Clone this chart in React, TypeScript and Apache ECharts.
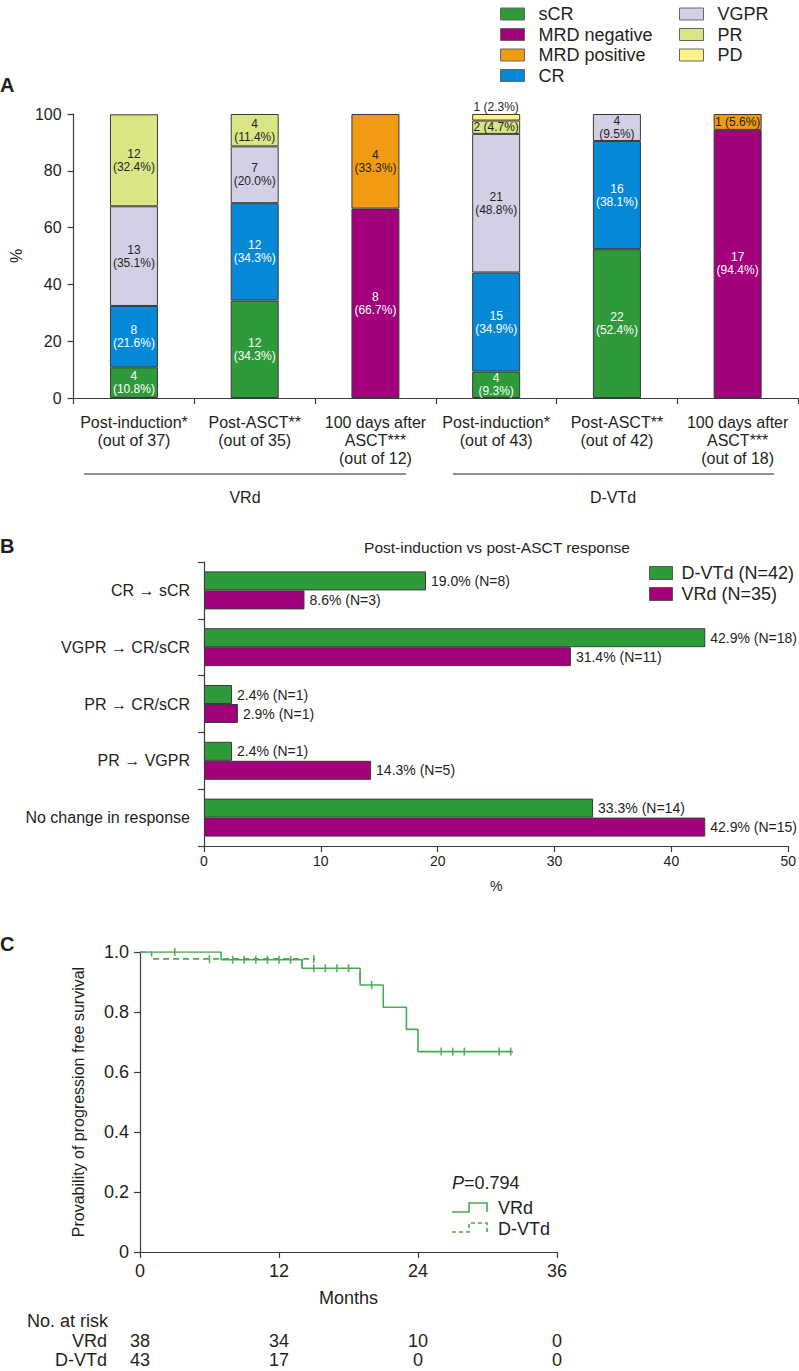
import React, { useEffect, useRef } from 'react';
import * as echarts from 'echarts';

const FONT = 'Liberation Sans, Arial, Helvetica, sans-serif';
const TXT = '#231f20';
const AXIS = '#3a3a3a';

// ---------- Panel A data ----------
const categoriesA = [
  'Post-induction*\n(out of 37)',
  'Post-ASCT**\n(out of 35)',
  '100 days after\nASCT***\n(out of 12)',
  'Post-induction*\n(out of 43)',
  'Post-ASCT**\n(out of 42)',
  '100 days after\nASCT***\n(out of 18)',
];
const sCRCount = [4, 12, null, 4, 22, null];
const sCRPct = [10.8, 34.3, null, 9.3, 52.4, null];
const mrdNegCount = [null, null, 8, null, null, 17];
const mrdNegPct = [null, null, 66.7, null, null, 94.4];
const crCount = [8, 12, null, 15, 16, null];
const crPct = [21.6, 34.3, null, 34.9, 38.1, null];
const vgprCount = [13, 7, null, 21, 4, null];
const vgprPct = [35.1, 20.0, null, 48.8, 9.5, null];
const prCount = [12, 4, null, 2, null, null];
const prPct = [32.4, 11.4, null, 4.7, null, null];
const pdCount = [null, null, null, 1, null, null];
const pdPct = [null, null, null, 2.3, null, null];
const mrdPosCount = [null, null, 4, null, null, 1];
const mrdPosPct = [null, null, 33.3, null, null, 5.6];
const groupLabels = ['VRd', 'D-VTd'];

// ---------- Panel B data ----------
const categoriesB = ['CR \u2192 sCR', 'VGPR \u2192 CR/sCR', 'PR \u2192 CR/sCR', 'PR \u2192 VGPR', 'No change in response'];
const dvtdPct = [19.0, 42.9, 2.4, 2.4, 33.3];
const dvtdN = [8, 18, 1, 1, 14];
const vrdPct = [8.6, 31.4, 2.9, 14.3, 42.9];
const vrdN = [3, 11, 1, 5, 15];

// ---------- Panel C data ----------
const kmVRdTime = [0, 7, 14, 19, 21, 23, 24, 32.2];
const kmVRdSurv = [1, 0.974, 0.946, 0.89, 0.816, 0.742, 0.668, 0.668];
const kmDVTdTime = [0, 1, 15.1];
const kmDVTdSurv = [1, 0.977, 0.977];
const censVRdTime = [3, 8, 9, 10, 11, 12, 13, 14, 15, 16, 17, 18, 19, 20, 26, 27, 28, 31, 32];
const censVRdSurv = [1, 0.974, 0.974, 0.974, 0.974, 0.974, 0.974, 0.96, 0.946, 0.946, 0.946, 0.946, 0.918, 0.89, 0.668, 0.668, 0.668, 0.668, 0.668];
const censDVTdTime = [6, 15];
const censDVTdSurv = [0.977, 0.977];
const riskTimes = [0, 12, 24, 36];
const riskVRd = [38, 34, 10, 0];
const riskDVTd = [43, 17, 0, 0];

const C_GREEN = '#2f9a3a';
const C_PURPLE = '#a3007d';
const C_ORANGE = '#f39a13';
const C_BLUE = '#0589d6';
const C_VGPR = '#d3d0e6';
const C_PR = '#dae685';
const C_PD = '#fff385';
const KM_GREEN = '#45ad4d';

function buildOption(): any {
  const stackDefs = [
    { name: 'sCR', counts: sCRCount, pcts: sCRPct, color: C_GREEN, light: false },
    { name: 'MRD negative', counts: mrdNegCount, pcts: mrdNegPct, color: C_PURPLE, light: false },
    { name: 'CR', counts: crCount, pcts: crPct, color: C_BLUE, light: false },
    { name: 'VGPR', counts: vgprCount, pcts: vgprPct, color: C_VGPR, light: true },
    { name: 'PR', counts: prCount, pcts: prPct, color: C_PR, light: true },
    { name: 'PD', counts: pdCount, pcts: pdPct, color: C_PD, light: true },
    { name: 'MRD positive', counts: mrdPosCount, pcts: mrdPosPct, color: C_ORANGE, light: true },
  ];
  const seriesA = stackDefs.map((d) => ({
    type: 'bar',
    name: d.name,
    stack: 'A',
    xAxisIndex: 0,
    yAxisIndex: 0,
    barWidth: 48,
    itemStyle: { color: d.color, borderColor: '#3a3a3a', borderWidth: 1 },
    label: {
      show: true,
      position: d.name === 'PD' ? 'top' : 'inside',
      distance: 1,
      color: d.light ? TXT : '#ffffff',
      fontSize: 12,
      lineHeight: 13,
      fontFamily: FONT,
      formatter: (p: any) => {
        const n = d.counts[p.dataIndex];
        const v = d.pcts[p.dataIndex];
        if (n == null || v == null) return '';
        return v < 7 ? `${n} (${v.toFixed(1)}%)` : `${n}\n(${v.toFixed(1)}%)`;
      },
    },
    data: d.pcts.map((v) => (v == null ? '-' : v)),
  }));

  const seriesB = [
    { name: 'D-VTd (N=42)', pcts: dvtdPct, ns: dvtdN, color: C_GREEN },
    { name: 'VRd (N=35)', pcts: vrdPct, ns: vrdN, color: C_PURPLE },
  ].map((d) => ({
    type: 'bar',
    name: d.name,
    xAxisIndex: 1,
    yAxisIndex: 1,
    barWidth: 19,
    barGap: '0%',
    itemStyle: { color: d.color, borderColor: '#3a3a3a', borderWidth: 1 },
    label: {
      show: true,
      position: 'right',
      distance: 5,
      color: TXT,
      fontSize: 14,
      fontFamily: FONT,
      formatter: (p: any) => `${d.pcts[p.dataIndex].toFixed(1)}% (N=${d.ns[p.dataIndex]})`,
    },
    data: d.pcts,
  }));

  const seriesC = [
    {
      type: 'line',
      name: 'VRd',
      xAxisIndex: 2,
      yAxisIndex: 2,
      step: 'end',
      showSymbol: false,
      lineStyle: { color: KM_GREEN, width: 1.6 },
      data: kmVRdTime.map((t, i) => [t, kmVRdSurv[i]]),
    },
    {
      type: 'line',
      name: 'D-VTd',
      xAxisIndex: 2,
      yAxisIndex: 2,
      step: 'end',
      showSymbol: false,
      lineStyle: { color: KM_GREEN, width: 1.6, type: [6, 4] },
      data: kmDVTdTime.map((t, i) => [t, kmDVTdSurv[i]]),
    },
    {
      type: 'scatter',
      name: 'VRd censored',
      xAxisIndex: 2,
      yAxisIndex: 2,
      symbol: 'rect',
      symbolSize: [1.6, 8],
      itemStyle: { color: '#2f9a3a' },
      data: censVRdTime.map((t, i) => [t, censVRdSurv[i]]),
    },
    {
      type: 'scatter',
      name: 'D-VTd censored',
      xAxisIndex: 2,
      yAxisIndex: 2,
      symbol: 'rect',
      symbolSize: [1.6, 8],
      itemStyle: { color: '#2f9a3a' },
      data: censDVTdTime.map((t, i) => [t, censDVTdSurv[i]]),
    },
  ];

  const axisLine = { show: true, lineStyle: { color: AXIS, width: 1.2 } };
  const axisTick = { show: true, length: 6, inside: false, lineStyle: { color: AXIS, width: 1.2 } };

  return {
    animation: false,
    backgroundColor: '#ffffff',
    textStyle: { fontFamily: FONT, color: TXT },
    legend: [
      {
        data: ['sCR', 'MRD negative', 'MRD positive', 'CR'],
        orient: 'vertical',
        left: 495,
        top: 0,
        itemWidth: 24,
        itemHeight: 12,
        itemGap: 2.5,
        icon: 'rect',
        itemStyle: { borderColor: '#666', borderWidth: 1 },
        textStyle: { fontSize: 18, lineHeight: 18, color: TXT, fontFamily: FONT, padding: [0, 0, 0, 9] },
        selectedMode: false,
      },
      {
        data: ['VGPR', 'PR', 'PD'],
        orient: 'vertical',
        left: 674,
        top: 0,
        itemWidth: 24,
        itemHeight: 12,
        itemGap: 2.5,
        icon: 'rect',
        itemStyle: { borderColor: '#666', borderWidth: 1 },
        textStyle: { fontSize: 18, lineHeight: 18, color: TXT, fontFamily: FONT, padding: [0, 0, 0, 9] },
        selectedMode: false,
      },
      {
        data: ['D-VTd (N=42)', 'VRd (N=35)'],
        orient: 'vertical',
        left: 644,
        top: 559,
        itemWidth: 23,
        itemHeight: 13,
        itemGap: 3,
        icon: 'rect',
        itemStyle: { borderColor: '#555', borderWidth: 1 },
        textStyle: { fontSize: 18, lineHeight: 18, color: TXT, fontFamily: FONT, padding: [0, 0, 0, 4] },
        selectedMode: false,
      },
    ],
    grid: [
      { left: 60, top: 114, width: 738, height: 284 },
      { left: 204, top: 562, width: 586, height: 284 },
      { left: 140, top: 952, width: 417, height: 300 },
    ],
    xAxis: [
      {
        gridIndex: 0,
        type: 'category',
        data: categoriesA,
        axisLine,
        axisTick: { ...axisTick, alignWithLabel: false },
        axisLabel: { interval: 0, fontSize: 16, lineHeight: 18, color: TXT, margin: 15, fontFamily: FONT },
      },
      {
        gridIndex: 1,
        type: 'value',
        min: 0,
        max: 50,
        interval: 10,
        axisLine,
        axisTick,
        splitLine: { show: false },
        axisLabel: { fontSize: 14, color: TXT, margin: 8, fontFamily: FONT },
        name: '%',
        nameLocation: 'middle',
        nameGap: 33,
        nameTextStyle: { fontSize: 14, color: TXT, fontFamily: FONT },
      },
      {
        gridIndex: 2,
        type: 'value',
        min: 0,
        max: 36,
        interval: 12,
        axisLine,
        axisTick,
        splitLine: { show: false },
        axisLabel: { fontSize: 18, color: TXT, margin: 10, fontFamily: FONT },
        name: 'Months',
        nameLocation: 'middle',
        nameGap: 37,
        nameTextStyle: { fontSize: 18, color: TXT, fontFamily: FONT },
      },
    ],
    yAxis: [
      {
        gridIndex: 0,
        type: 'value',
        min: 0,
        max: 100,
        interval: 20,
        axisLine,
        axisTick,
        splitLine: { show: false },
        axisLabel: { fontSize: 16, color: TXT, margin: 12, fontFamily: FONT },
        name: '%',
        nameLocation: 'middle',
        nameRotate: 90,
        nameGap: 43,
        nameTextStyle: { fontSize: 16, color: TXT, fontFamily: FONT },
      },
      {
        gridIndex: 1,
        type: 'category',
        inverse: true,
        data: categoriesB,
        axisLine,
        axisTick,
        axisLabel: { fontSize: 16, color: TXT, margin: 14, fontFamily: FONT },
      },
      {
        gridIndex: 2,
        type: 'value',
        min: 0,
        max: 1,
        interval: 0.2,
        axisLine,
        axisTick,
        splitLine: { show: false },
        axisLabel: {
          fontSize: 18,
          color: TXT,
          margin: 11,
          fontFamily: FONT,
          formatter: (v: number) => (v === 0 ? '0' : v.toFixed(1)),
        },
        name: 'Provability of progression free survival',
        nameLocation: 'middle',
        nameRotate: 90,
        nameGap: 54,
        nameTextStyle: { fontSize: 16, color: TXT, fontFamily: FONT },
      },
    ],
    series: [...seriesA, ...seriesB, ...seriesC],
  };
}

function buildGraphic(px: (t: number) => number): any[] {
  const t = (x: number, y: number, text: string, opts: any = {}) => ({
    type: 'text',
    x,
    y,
    style: {
      text,
      fill: TXT,
      fontFamily: FONT,
      fontSize: 16,
      align: 'left',
      verticalAlign: 'middle',
      ...opts,
    },
  });
  const els: any[] = [];
  els.push(t(0, 85, 'A', { fontSize: 20, fontWeight: 'bold' }));
  els.push(t(0, 546, 'B', { fontSize: 20, fontWeight: 'bold' }));
  els.push(t(0, 944, 'C', { fontSize: 20, fontWeight: 'bold' }));
  // group lines panel A
  els.push({ type: 'line', shape: { x1: 84, y1: 474, x2: 406, y2: 474 }, style: { stroke: TXT, lineWidth: 1.2 } });
  els.push({ type: 'line', shape: { x1: 453, y1: 474, x2: 774, y2: 474 }, style: { stroke: TXT, lineWidth: 1.2 } });
  els.push(t(245, 497, groupLabels[0], { align: 'center' }));
  els.push(t(613, 497, groupLabels[1], { align: 'center' }));
  // panel B title
  els.push(t(497, 547, 'Post-induction vs post-ASCT response', { align: 'center', fontSize: 15.5 }));
  // panel C legend
  els.push({
    type: 'text',
    x: 452,
    y: 1183,
    style: {
      text: '{i|P}=0.794',
      fill: TXT,
      fontFamily: FONT,
      fontSize: 18,
      align: 'left',
      verticalAlign: 'middle',
      rich: { i: { fontStyle: 'italic', fontSize: 18, fontFamily: FONT, fill: TXT } },
    },
  });
  els.push({
    type: 'polyline',
    shape: { points: [[452, 1212], [469, 1212], [469, 1203], [487, 1203], [487, 1212]] },
    style: { stroke: KM_GREEN, lineWidth: 1.6, fill: null },
  });
  els.push({
    type: 'polyline',
    shape: { points: [[452, 1232], [469, 1232], [469, 1223], [487, 1223], [487, 1232]] },
    style: { stroke: KM_GREEN, lineWidth: 1.6, fill: null, lineDash: [4, 3] },
  });
  els.push(t(498, 1208, 'VRd', { fontSize: 18 }));
  els.push(t(498, 1229, 'D-VTd', { fontSize: 18 }));
  // number at risk
  els.push(t(27, 1321, 'No. at risk', { fontSize: 18 }));
  els.push(t(107, 1341, 'VRd', { fontSize: 18, align: 'right' }));
  els.push(t(107, 1360, 'D-VTd', { fontSize: 18, align: 'right' }));
  riskTimes.forEach((tm, i) => {
    const x = px(tm);
    els.push(t(x, 1341, String(riskVRd[i]), { fontSize: 18, align: 'center' }));
    els.push(t(x, 1360, String(riskDVTd[i]), { fontSize: 18, align: 'center' }));
  });
  return els;
}

export default function App() {
  const ref = useRef<HTMLDivElement>(null);
  useEffect(() => {
    if (!ref.current) return;
    const chart = echarts.init(ref.current, null, { renderer: 'svg' });
    chart.setOption(buildOption());
    const px = (tm: number) => chart.convertToPixel({ xAxisIndex: 2 }, tm) as unknown as number;
    chart.setOption({ graphic: buildGraphic(px) });
    return () => chart.dispose();
  }, []);
  return (
    <div
      ref={ref}
      style={{ position: 'absolute', left: 0, top: 0, width: 799, height: 1371, background: '#fff' }}
    />
  );
}
